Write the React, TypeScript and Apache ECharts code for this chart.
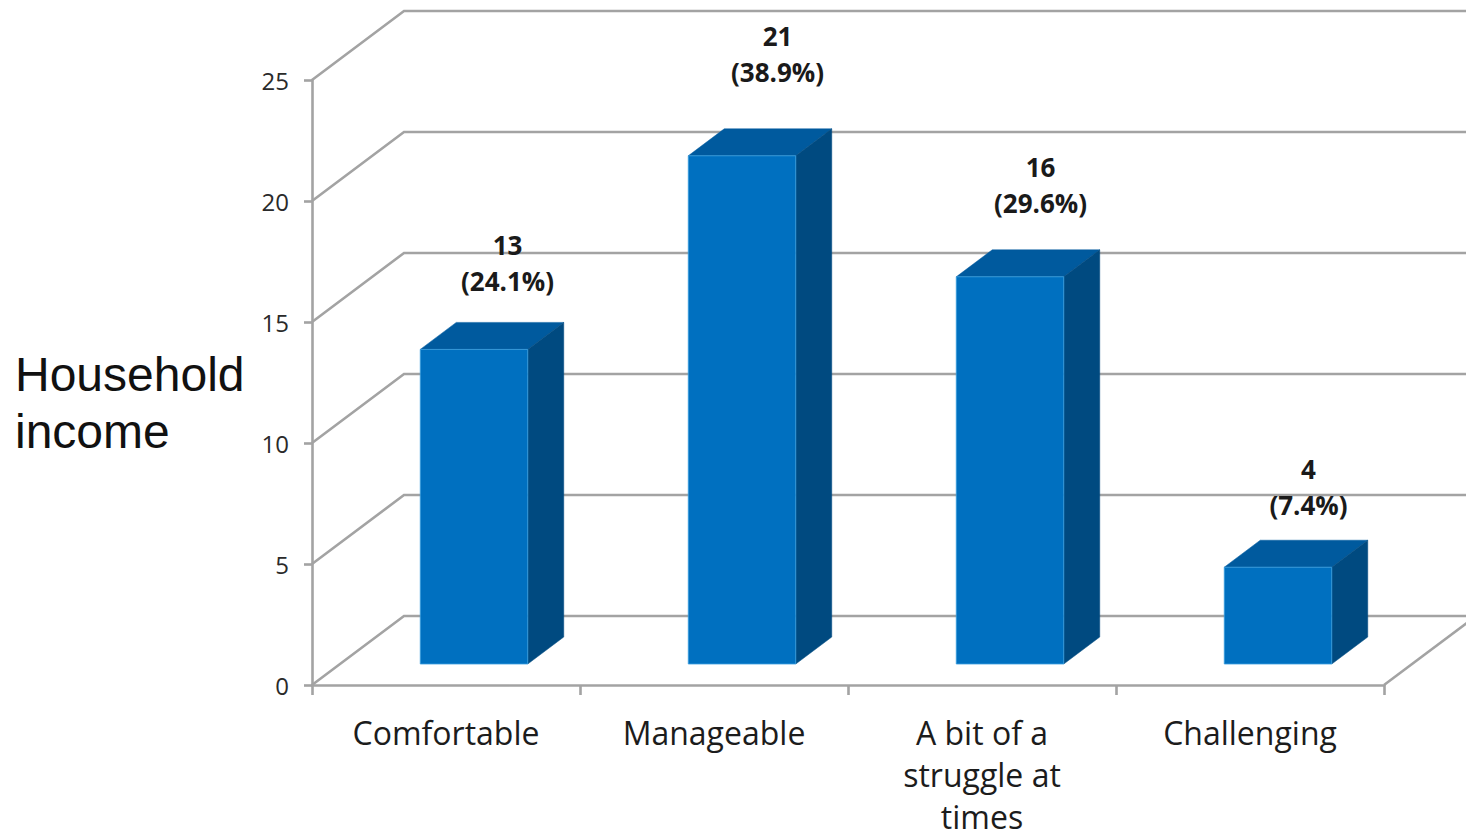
import React, { useEffect, useRef } from "react";
import * as echarts from "echarts";

const categories = ["Comfortable", "Manageable", "A bit of a\nstruggle at\ntimes", "Challenging"];
const counts = [13, 21, 16, 4];
const percents = ["(24.1%)", "(38.9%)", "(29.6%)", "(7.4%)"];
const wallTicks = [0, 5, 10, 15, 20, 25];
const axisTitle = "Household\nincome";

// Layout of the pseudo 3D drawing, in pixels
const WALL_DX = 92;
const WALL_DY = -69;
const BAR_DEPTH_X = 36;
const BAR_DEPTH_Y = -27;
const BAR_SHIFT_X = 28;
const BAR_LIFT = 21;
const BAR_WIDTH = 107.5;
const LABEL_NUDGE_X = [61.5, 63.5, 58.5, 58.5];
const LABEL_GAP = [122, 138, 128, 116];

export default function App() {
  const ref = useRef<HTMLDivElement | null>(null);
  useEffect(() => {
    document.body.style.margin = "0";
    document.body.style.background = "#fff";
    const chart = echarts.init(ref.current!, undefined, { renderer: "svg" });
    const line = { stroke: "#a3a3a3", lineWidth: 2.6, fill: "none" };
    chart.setOption({
      animation: false,
      backgroundColor: "#fff",
      grid: { left: 312, top: 80, width: 1072, height: 605, containLabel: false, outerBoundsMode: "none" },
      graphic: [
        {
          type: "text",
          x: 15,
          y: 346,
          style: {
            text: axisTitle,
            font: '48px "Liberation Sans", Arial, sans-serif',
            lineHeight: 57,
            fill: "#111",
          },
        },
      ],
      xAxis: {
        type: "category",
        data: categories,
        axisLine: { lineStyle: { color: "#a3a3a3", width: 2.6 } },
        axisTick: { show: true, length: 10, lineStyle: { color: "#a3a3a3", width: 2.6 } },
        axisLabel: {
          interval: 0,
          margin: 26,
          color: "#1c1c1c",
          fontFamily: '"Open Sans", sans-serif',
          fontSize: 32,
          lineHeight: 42,
        },
        splitLine: { show: false },
      },
      yAxis: {
        type: "value",
        min: 0,
        max: 25,
        interval: 5,
        axisLine: { show: true, lineStyle: { color: "#a3a3a3", width: 2.6 } },
        axisTick: { show: true, length: 8, lineStyle: { color: "#a3a3a3", width: 2.6 } },
        axisLabel: {
          margin: 23,
          color: "#2a2a2a",
          fontFamily: '"Open Sans", sans-serif',
          fontSize: 24,
        },
        splitLine: { show: false },
      },
      series: [
        {
          type: "custom",
          silent: true,
          z: 1,
          clip: false,
          data: wallTicks.map((v) => [0, v]),
          encode: { x: 0, y: 1 },
          renderItem: (params: any, api: any) => {
            const v = api.value(1);
            const c = api.coord([0, v]);
            const x0 = params.coordSys.x;
            const right = x0 + params.coordSys.width;
            const y = c[1];
            const children: any[] = [
              {
                type: "polyline",
                shape: {
                  points: [
                    [x0, y],
                    [x0 + WALL_DX, y + WALL_DY],
                    [right + WALL_DX, y + WALL_DY],
                  ],
                },
                style: line,
              },
            ];
            if (v === 0) {
              children.push({
                type: "line",
                shape: { x1: right, y1: y, x2: right + WALL_DX, y2: y + WALL_DY },
                style: line,
              });
            }
            return { type: "group", children };
          },
        },
        {
          type: "custom",
          z: 3,
          clip: false,
          data: counts.map((v, i) => [i, v]),
          encode: { x: 0, y: 1 },
          renderItem: (params: any, api: any) => {
            const i = api.value(0);
            const v = api.value(1);
            const top = api.coord([i, v]);
            const base = api.coord([i, 0]);
            const l = top[0] + BAR_SHIFT_X - BAR_WIDTH / 2;
            const r = l + BAR_WIDTH;
            const t = top[1] - BAR_LIFT;
            const b = base[1] - BAR_LIFT;
            const dx = BAR_DEPTH_X;
            const dy = BAR_DEPTH_Y;
            return {
              type: "group",
              children: [
                {
                  type: "polygon",
                  shape: { points: [[l, t], [l + dx, t + dy], [r + dx, t + dy], [r, t]] },
                  style: { fill: "#005a9e", stroke: "#005a9e", lineWidth: 0.5 },
                },
                {
                  type: "polygon",
                  shape: { points: [[r, t], [r + dx, t + dy], [r + dx, b + dy], [r, b]] },
                  style: { fill: "#004a80", stroke: "#004a80", lineWidth: 0.5 },
                },
                {
                  type: "rect",
                  shape: { x: l, y: t, width: BAR_WIDTH, height: b - t },
                  style: { fill: "#0070c0", stroke: "#3a9fe0", lineWidth: 0.8 },
                },
              ],
            };
          },
        },
        {
          type: "custom",
          silent: true,
          z: 4,
          clip: false,
          data: counts.map((v, i) => [i, v]),
          encode: { x: 0, y: 1 },
          renderItem: (params: any, api: any) => {
            const i = api.value(0);
            const v = api.value(1);
            const p = api.coord([i, v]);
            return {
              type: "text",
              style: {
                text: `${v}\n${percents[i]}`,
                x: p[0] + LABEL_NUDGE_X[i],
                y: p[1] - BAR_LIFT - LABEL_GAP[i],
                align: "center",
                verticalAlign: "top",
                font: 'bold 26px "Open Sans", sans-serif',
                lineHeight: 36,
                fill: "#1a1a1a",
              },
            };
          },
        },
      ],
    });
    return () => chart.dispose();
  }, []);
  return <div ref={ref} style={{ position: "fixed", left: 0, top: 0, width: 1466, height: 837 }} />;
}
